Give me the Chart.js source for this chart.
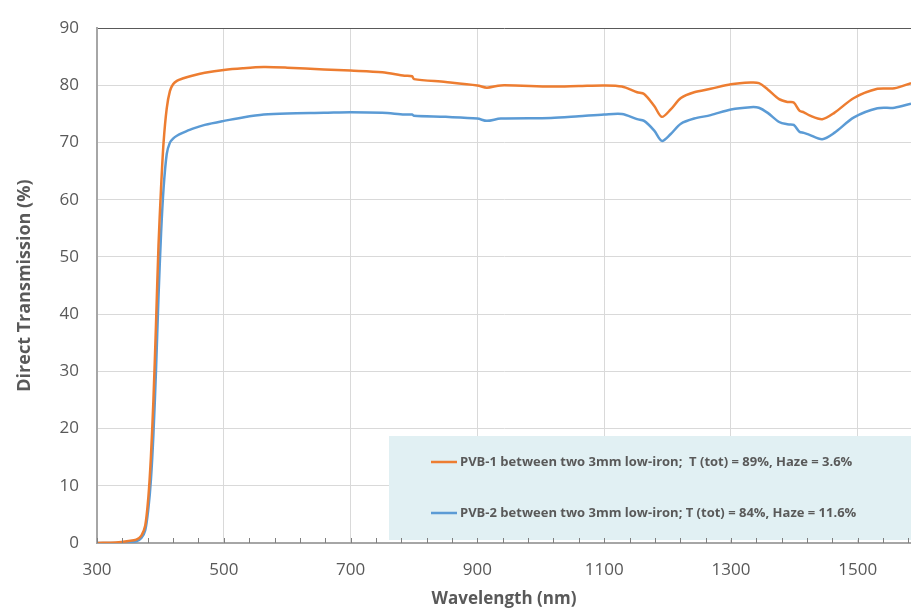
<!DOCTYPE html>
<html lang="en">
<head>
    <meta charset="UTF-8">
    <title>Direct transmission</title>
    <script src="https://cdn.jsdelivr.net/npm/chart.js"></script>
    <style>
        html, body { margin: 0; padding: 0; background: #fff; }
        #wrap { position: relative; width: 911px; height: 609px; }
    </style>
</head>
<body>
    <div id="wrap"><canvas id="myChart"></canvas></div>

    <script>
        // wavelength (nm)
        const wavelengths = [300, 330, 350, 362, 370, 376, 381, 385, 389, 393, 397, 401, 405, 410, 415, 420, 426, 435, 450, 470,
            500, 530, 563, 600, 658, 700, 750, 785, 797, 800, 850, 900, 915, 937, 1016, 1060, 1100, 1128, 1152, 1163,
            1179, 1191, 1205, 1221, 1242, 1268, 1300, 1331, 1344, 1358, 1376, 1389, 1399, 1408, 1415, 1423, 1444, 1463,
            1494, 1531, 1558, 1584]

        const pvb1 = [0, 0.1, 0.35, 0.6, 1.3, 3, 8, 15, 25, 38, 52, 62, 70, 76, 79, 80.2, 80.8, 81.2, 81.7, 82.2,
            82.7, 83.0, 83.2, 83.1, 82.8, 82.6, 82.3, 81.7, 81.6, 81.1, 80.6, 80.0, 79.6, 80.0, 79.8, 79.9, 80.0, 79.8, 78.8, 78.5,
            76.4, 74.5, 75.8, 77.8, 78.8, 79.4, 80.2, 80.5, 80.4, 79.3, 77.6, 77.1, 77.0, 75.6, 75.3, 74.8, 74.1, 75.2,
            77.8, 79.4, 79.5, 80.4]

        const pvb2 = [0, 0.02, 0.1, 0.3, 0.9, 2.2, 6, 11, 19, 30, 43, 54, 62, 68, 70, 70.7, 71.2, 71.7, 72.4, 73.1,
            73.8, 74.4, 74.9, 75.1, 75.2, 75.3, 75.2, 74.9, 74.9, 74.7, 74.5, 74.2, 73.8, 74.2, 74.3, 74.6, 74.9, 75.0, 74.1, 73.8,
            72.1, 70.3, 71.5, 73.3, 74.2, 74.8, 75.8, 76.2, 76.1, 75.2, 73.6, 73.2, 73.1, 71.9, 71.7, 71.4, 70.6, 71.7,
            74.4, 76.0, 76.1, 76.8]

        const xTicks = [300, 500, 700, 900, 1100, 1300, 1500]

        const seriesLabels = [
            'PVB-1 between two 3mm low-iron;  T (tot) = 89%, Haze = 3.6%',
            'PVB-2 between two 3mm low-iron; T (tot) = 84%, Haze = 11.6%'
        ]

        const toPoints = vals => wavelengths.map((w, i) => ({ x: w, y: vals[i] }))

        const textGrey = '#595959'

        // minor tick marks on the x axis (every 40 nm, pointing up)
        const minorTicks = {
            id: 'minorTicks',
            afterDatasetsDraw(chart) {
                const c = chart.ctx
                const xs = chart.scales.x
                const y0 = chart.chartArea.bottom
                c.save()
                c.strokeStyle = '#7f7f7f'
                c.lineWidth = 1
                for (let v = 300; v <= xs.max; v += 40) {
                    const px = Math.round(xs.getPixelForValue(v)) + 0.5
                    c.beginPath()
                    c.moveTo(px, y0)
                    c.lineTo(px, y0 - 5)
                    c.stroke()
                }
                c.restore()
            }
        }

        // legend drawn inside the plot on a light blue box
        const boxLegend = {
            id: 'boxLegend',
            beforeDatasetsDraw(chart) {
                const c = chart.ctx
                const a = chart.chartArea
                c.save()
                c.fillStyle = '#e1f0f3'
                c.fillRect(389, 436, a.right - 389, 104)
                c.font = 'bold 13px "Open Sans"'
                c.textBaseline = 'middle'
                chart.data.datasets.forEach((ds, i) => {
                    const y = 462 + i * 51
                    c.strokeStyle = ds.borderColor
                    c.lineWidth = 2.5
                    c.beginPath()
                    c.moveTo(431, y)
                    c.lineTo(457, y)
                    c.stroke()
                    c.fillStyle = textGrey
                    c.fillText(ds.label, 460, y)
                })
                c.restore()
            }
        }

        const ctx = document.getElementById('myChart')
        const myChart = new Chart(ctx, {
            type: 'line',
            data: {
                datasets: [{
                    label: seriesLabels[0],
                    data: toPoints(pvb1),
                    borderColor: '#ed7d31',
                    borderWidth: 2.5,
                    pointRadius: 0,
                    tension: 0.3
                }, {
                    label: seriesLabels[1],
                    data: toPoints(pvb2),
                    borderColor: '#5b9bd5',
                    borderWidth: 2.5,
                    pointRadius: 0,
                    tension: 0.3
                }]
            },
            options: {
                responsive: true,
                maintainAspectRatio: false,
                animation: false,
                layout: { padding: { top: 21, right: 0, left: 0, bottom: 0 } },
                plugins: {
                    legend: { display: false },
                    tooltip: { enabled: false }
                },
                scales: {
                    x: {
                        type: 'linear',
                        min: 300,
                        max: 1584,
                        afterBuildTicks: s => { s.ticks = xTicks.map(v => ({ value: v })) },
                        ticks: {
                            color: textGrey,
                            font: { family: 'Open Sans', size: 17 },
                            padding: 17,
                            callback: v => String(v)
                        },
                        grid: { color: '#d9d9d9', drawTicks: false },
                        border: { color: '#a6a6a6', width: 2 },
                        title: {
                            display: true,
                            text: 'Wavelength (nm)',
                            color: textGrey,
                            font: { family: 'Open Sans', size: 17, weight: 'bold' },
                            padding: 0
                        },
                        afterFit: s => { s.height = 66 }
                    },
                    y: {
                        min: 0,
                        max: 90,
                        ticks: {
                            stepSize: 10,
                            color: textGrey,
                            font: { family: 'Open Sans', size: 17 },
                            padding: 18
                        },
                        grid: {
                            color: c => c.tick && c.tick.value === 90 ? '#595959' : '#d9d9d9',
                            drawTicks: false
                        },
                        border: { color: '#a6a6a6', width: 2 },
                        title: {
                            display: true,
                            text: 'Direct Transmission (%)',
                            color: textGrey,
                            font: { family: 'Open Sans', size: 18, weight: 'bold' },
                            padding: { top: 14, bottom: 0 }
                        },
                        afterFit: s => { s.width = 97 }
                    }
                }
            },
            plugins: [boxLegend, minorTicks]
        })
    </script>
</body>
</html>
